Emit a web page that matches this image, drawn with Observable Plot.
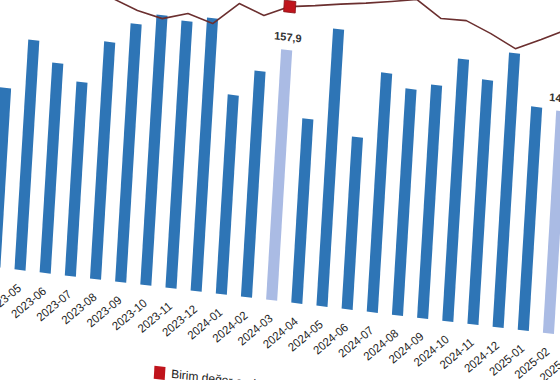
<!DOCTYPE html>
<html>
<head>
<meta charset="utf-8">
<script src="https://cdn.jsdelivr.net/npm/d3@7"></script>
<script src="https://cdn.jsdelivr.net/npm/@observablehq/plot@0.6"></script>
<style>
html, body { margin: 0; padding: 0; background: #fff; overflow: hidden; width: 560px; height: 380px; }
#wrap {
  position: absolute; left: 0; top: 0; width: 658px;
  transform-origin: 0 0;
  transform: matrix(1, 0.12, -0.06, 1, -24.38, -77.77);
  font-family: "Liberation Sans", Arial, sans-serif;
}
.legend { display: flex; align-items: center; margin-top: 18px; padding-left: 204px; font-size: 12px; color: #222; }
.legend .sw { width: 11px; height: 13px; background: #c0141c; margin-right: 6px; }
</style>
</head>
<body>
<div id="wrap"></div>
<script>
// Month categories (tick labels)
const months = [
  "2023-04","2023-05","2023-06","2023-07","2023-08","2023-09","2023-10","2023-11","2023-12",
  "2024-01","2024-02","2024-03","2024-04","2024-05","2024-06","2024-07","2024-08","2024-09",
  "2024-10","2024-11","2024-12","2025-01","2025-02","2025-03"
];
// Bar series (one per month from 2023-04 to 2025-02)
const barValues = [
  112.9, 145.0, 132.4, 122.3, 149.5, 162.8, 170.3, 168.4, 172.2,
  125.6, 142.6, 157.9, 116.2, 174.8, 108.6, 150.9, 142.7, 147.1,
  165.4, 154.1, 173.0, 140.9, 140.1
];
// Line series: Birim değer endeksi (visible part)
const lineMonths = [
  "2023-08","2023-09","2023-10","2023-11","2023-12","2024-01","2024-02","2024-03","2024-04",
  "2024-05","2024-06","2024-07","2024-08","2024-09","2024-10","2024-11","2024-12","2025-01","2025-02"
];
const lineValues = [
  177.3, 171.6, 168.4, 173.5, 169.1, 183.6, 178.0, 185.5, 188.0,
  190.9, 193.4, 196.3, 199.5, 189.4, 190.0, 183.7, 176.1, 183.8, 192.0
];
const highlightMonths = ["2024-03", "2025-02"];
const markerMonths = ["2024-03"];
const legendLabel = "Birim değer endeksi";

const bars = barValues.map((v, i) => ({month: months[i], value: v, hl: highlightMonths.includes(months[i])}));
const line = lineMonths.map((m, i) => ({month: m, value: lineValues[i]}));
const fmt = v => d3.format(".1f")(v).replace(".", ",");

const chart = Plot.plot({
  width: 658,
  height: 400,
  marginTop: 20,
  marginRight: 20,
  marginBottom: 60,
  marginLeft: 20,
  style: {fontFamily: "Liberation Sans, Arial, sans-serif", fontSize: "11.5px", color: "#222", background: "#fff"},
  x: {domain: months, padding: 0.56, round: false, label: null, tickRotate: -45, tickSize: 0, tickPadding: 16},
  y: {domain: [0, 201.8], axis: null},
  marks: [
    Plot.barY(bars.filter(d => !d.hl), {x: "month", y: "value", fill: "#2e75b6"}),
    Plot.barY(bars.filter(d => d.hl), {x: "month", y: "value", fill: "#aabbe4"}),
    Plot.line(line, {x: "month", y: "value", stroke: "#6b2f2f", strokeWidth: 1.6}),
    Plot.dot(line.filter(d => markerMonths.includes(d.month)), {x: "month", y: "value", symbol: "square", r: 6.5, fill: "#c0141c", stroke: "#8a0f14", strokeWidth: 0.8}),
    Plot.text(bars.filter(d => d.hl), {x: "month", y: "value", text: d => fmt(d.value), dy: -13, fontWeight: "bold", fontSize: 11, fill: "#333"})
  ]
});

const wrap = document.getElementById("wrap");
wrap.appendChild(chart);
const legend = document.createElement("div");
legend.className = "legend";
legend.innerHTML = `<span class="sw"></span><span>${legendLabel}</span>`;
wrap.appendChild(legend);
</script>
</body>
</html>
